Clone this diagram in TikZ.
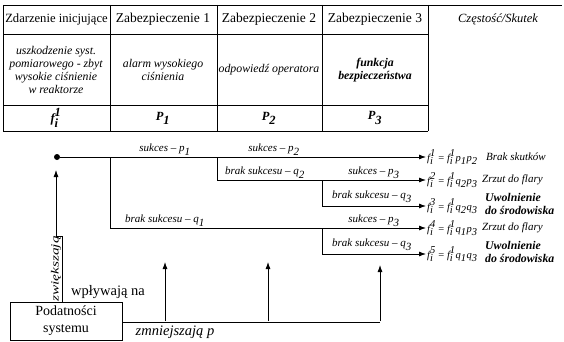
\documentclass[tikz,border=0pt]{standalone}
\usepackage{fontspec}
\setmainfont{Liberation Serif}[Ligatures=TeX]
\usetikzlibrary{arrows.meta, positioning, calc}

\newcommand{\fsi}[1]{$\textit{f}_{\textit{i}}^{\textit{#1}}$}
\newcommand{\ix}[2]{$\textit{#1}_{\textit{#2}}$}

\begin{document}
\begin{tikzpicture}[x=1pt, y=-1pt,
		tab/.style={line width=0.7pt},
		head/.style={font=\fontsize{13.5}{15}\selectfont},
		desc/.style={font=\fontsize{11.8}{13}\selectfont\itshape, align=center},
		prob/.style={font=\fontsize{12.5}{13}\selectfont\bfseries\itshape},
		flow/.style={line width=0.8pt, -{Latex[length=7pt,width=5pt]}},
		line/.style={line width=0.8pt},
		lab/.style={font=\fontsize{11}{12}\selectfont\itshape, anchor=south, inner sep=1.5pt},
		res/.style={font=\fontsize{10.5}{12}\selectfont, anchor=west, inner sep=1pt},
		eff/.style={font=\fontsize{11}{12}\selectfont\itshape, anchor=west, inner sep=0pt, align=left},
		dot/.style={circle, fill, inner sep=0pt, minimum size=6pt},
		box/.style={draw, line width=0.7pt, minimum width=112pt, minimum height=38pt, align=center, font=\fontsize{14}{17}\selectfont}]
		\useasboundingbox (0,0) rectangle (564,342);

		% table
		\draw [tab] (3,5) -- (562,5);
		\draw [tab] (3,5) -- (3,131) -- (428,131);
		\draw [tab] (3,34) -- (428,34);
		\draw [tab] (3,105) -- (428,105);
		\foreach \x in {110,217,322,428}
			\draw [tab] (\x,5) -- (\x,131);

		\node [head, font=\fontsize{12.6}{15}\selectfont] (h1) at (56.5,19) {Zdarzenie inicjujące};
		\node [head] (h2) at (163,19) {Zabezpieczenie 1};
		\node [head] (h3) at (269,19) {Zabezpieczenie 2};
		\node [head] (h4) at (375,19) {Zabezpieczenie 3};
		\node [head, font=\fontsize{12.5}{15}\selectfont\itshape] (h5) at (498,19) {Częstość/Skutek};

		\node [desc] (d1) at (56,70) {uszkodzenie syst.\\pomiarowego - zbyt\\wysokie ciśnienie\\w reaktorze};
		\node [desc] (d2) at (163,70) {alarm wysokiego\\ciśnienia};
		\node [desc] (d3) at (269,70) {odpowiedź operatora};
		\node [desc, font=\fontsize{11.8}{13}\selectfont\bfseries\itshape] (d4) at (375,70) {funkcja\\bezpieczeństwa};

		\node [prob] (e1) at (56,118) {\fsi{1}};
		\node [prob] (e2) at (163,118) {\ix{P}{1}};
		\node [prob] (e3) at (269,118) {\ix{P}{2}};
		\node [prob] (e4) at (375,118) {\ix{P}{3}};

		% event tree
		\node [dot] (start) at (57,157) {};
		\coordinate (b1) at (110,157);
		\coordinate (b2) at (217,157);
		\coordinate (b3) at (322,180);
		\coordinate (b4) at (322,228);

		\node [res] (r1) at (426,157) {\fsi{1} = \fsi{1}\ix{p}{1}\ix{p}{2}};
		\node [res] (r2) at (426,180) {\fsi{2} = \fsi{1}\ix{q}{2}\ix{p}{3}};
		\node [res] (r3) at (426,206) {\fsi{3} = \fsi{1}\ix{q}{2}\ix{q}{3}};
		\node [res] (r4) at (426,228) {\fsi{4} = \fsi{1}\ix{q}{1}\ix{p}{3}};
		\node [res] (r5) at (426,254) {\fsi{5} = \fsi{1}\ix{q}{1}\ix{q}{3}};

		\node [eff] (s1) at (486,157) {Brak skutków};
		\node [eff] (s2) at (482,180) {Zrzut do flary};
		\node [eff, font=\fontsize{11.8}{13}\selectfont\bfseries\itshape] (s3) at (485,204) {Uwolnienie\\do środowiska};
		\node [eff] (s4) at (482,228) {Zrzut do flary};
		\node [eff, font=\fontsize{11.8}{13}\selectfont\bfseries\itshape] (s5) at (485,252) {Uwolnienie\\do środowiska};

		\draw [flow] (start) -- (r1.west);
		\draw [flow] (b2) |- (r2.west);
		\draw [flow] (b3) |- (r3.west);
		\draw [flow] (b1) |- (r4.west);
		\draw [flow] (b4) |- (r5.west);

		\node [lab] (l1) at (165,157) {sukces -- \ix{p}{1}};
		\node [lab] (l2) at (274,157) {sukces -- \ix{p}{2}};
		\node [lab] (l3) at (265,180) {brak sukcesu -- \ix{q}{2}};
		\node [lab] (l4) at (374,180) {sukces -- \ix{p}{3}};
		\node [lab] (l5) at (372,204) {brak sukcesu -- \ix{q}{3}};
		\node [lab] (l6) at (165,228) {brak sukcesu -- \ix{q}{1}};
		\node [lab] (l7) at (374,228) {sukces -- \ix{p}{3}};
		\node [lab] (l8) at (372,252) {brak sukcesu -- \ix{q}{3}};

		% system vulnerabilities
		\node [box] (pod) at (66,321) {Podatności\\systemu};
		\coordinate (c1) at (165,262);
		\coordinate (c2) at (268,262);
		\coordinate (c3) at (380,265);
		\coordinate (inc) at (56,170);

		\draw [line] (pod.east |- 0,322) -- (380,322);
		\draw [flow] (c1 |- pod.east) -- (c1);
		\draw [flow] (c2 |- pod.east) -- (c2);
		\draw [flow] (c3 |- pod.east) -- (c3);
		\draw [flow] (62,302) -- (62,236) -- (56,236) -- (inc);

		\node [font=\fontsize{11}{12}\selectfont\itshape, rotate=90, inner sep=0pt, anchor=base] (zw) at (58.5,269) {\scalebox{1.4}[1]{zwiększają}};
		\node [font=\fontsize{14.5}{16}\selectfont] (wp) at (108,292) {wpływają na};
		\node [font=\fontsize{14.5}{16}\selectfont\itshape] (zm) at (175,332) {zmniejszają \textit{p}};
	\end{tikzpicture}
\end{document}
